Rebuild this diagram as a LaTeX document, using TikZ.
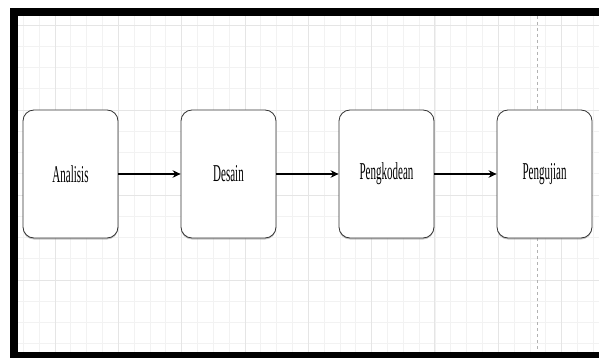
\documentclass[tikz,border=0pt]{standalone}
\usepackage{fontspec}
\setmainfont{Liberation Serif}
\usepackage{graphicx}
\usetikzlibrary{shapes.geometric, arrows.meta, shadows}
\tikzstyle{phasebox} = [rectangle, rounded corners=11pt, minimum width=95pt, minimum height=128pt, draw=black!80, line width=0.8pt, fill=white, drop shadow={shadow xshift=0pt, shadow yshift=-1.5pt, opacity=0.45}, inner sep=0pt, font=\fontsize{11}{13}\selectfont]
\tikzstyle{arrow} = [line width=1.4pt,->,>={Stealth[length=8pt,width=7.5pt]}]
\tikzstyle{gridminor} = [draw=black!5, line width=0.6pt]
\tikzstyle{gridmajor} = [draw=black!10, line width=0.9pt]
\newcommand{\tall}[1]{\scalebox{1}[2.2]{#1}}

\begin{document}
\begin{tikzpicture}[x=1pt, y=-1pt, node distance=158pt]
      \useasboundingbox (0,0) rectangle (599,358);
      \fill[white] (0,0) rectangle (599,358);

      % grid of the canvas
      \foreach \i in {0,...,36} \draw[gridminor] ({23.3+15.83*\i},16) -- ({23.3+15.83*\i},352);
      \foreach \i in {0,...,15} \draw[gridminor] (18,{25+21.25*\i}) -- (599,{25+21.25*\i});
      \foreach \i in {0,...,8} \draw[gridmajor] ({55+63.32*\i},16) -- ({55+63.32*\i},352);
      \foreach \i in {0,...,3} \draw[gridmajor] (18,{25+85*\i}) -- (599,{25+85*\i});
      \draw[black!30, dashed, line width=0.7pt] (537,16) -- (537,352);

      % frame
      \fill[black] (10,8) rectangle (599,16);
      \fill[black] (10,8) rectangle (18,358);
      \fill[black] (10,352) rectangle (599,358);

      \node (analisis) [phasebox] at (70.5,174) {\tall{Analisis}};
      \node (desain) [phasebox, right of=analisis] {\tall{Desain}};
      \node (pengkodean) [phasebox, right of=desain] {\tall{Pengkodean}};
      \node (pengujian) [phasebox, right of=pengkodean] {\tall{Pengujian}};

      \draw [arrow] (analisis) -- (desain);
      \draw [arrow] (desain) -- (pengkodean);
      \draw [arrow] (pengkodean) -- (pengujian);
    \end{tikzpicture}
\end{document}
